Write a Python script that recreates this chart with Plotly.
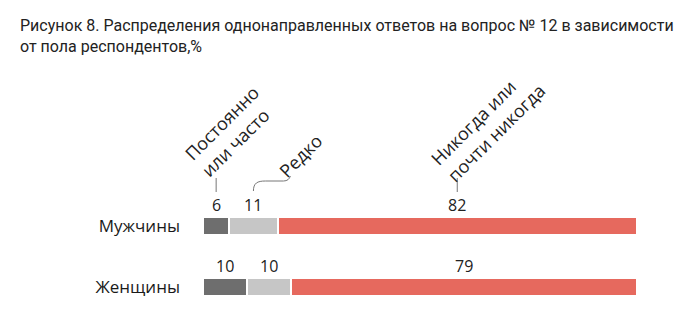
import plotly.graph_objects as go

# Survey data: answers to question No. 12 by respondent sex, %
groups = ["Мужчины", "Женщины"]
answers = ["Постоянно<br>или часто", "Редко", "Никогда или<br>почти никогда"]
often = [6, 10]
rarely = [11, 10]
never = [82, 79]
series = [often, rarely, never]
colors = ["#6e6e6e", "#c6c6c6", "#e6695e"]

W, H = 700, 326
L, R = 203, 63           # plot area margins (px)
PW = W - L - R
total = max(sum(v) for v in zip(*series))

fig = go.Figure()
for name, vals, col in zip(answers, series, colors):
    fig.add_trace(go.Bar(
        y=groups, x=vals, orientation="h", name=name,
        marker=dict(color=col, line=dict(color="white", width=2)),
        width=0.3, hoverinfo="skip", showlegend=False,
    ))

# value labels centred above each segment
for gi, g in enumerate(groups):
    start = 0
    for vals in series:
        v = vals[gi]
        fig.add_annotation(x=start + v / 2, y=g, text=str(v), showarrow=False,
                           yshift=21, font=dict(size=16, color="#222"),
                           xref="x", yref="y")
        start += v

def px2x(px):
    return (px - L) / PW

def py2y(py):
    return 1 - py / H

# midpoints of the first row's segments, in pixels
mids = []
start = 0
for vals in series:
    v = vals[0]
    mids.append(L + (start + v / 2) / total * PW)
    start += v

label_font = dict(size=18, color="#222", family="Open Sans, Roboto, sans-serif")

# rotated answer labels
for text, cx, cy in ((answers[0], mids[0] + 13, 131),
                     (answers[1], 300, 156),
                     (answers[2], mids[2] + 30, 124)):
    fig.add_annotation(x=px2x(cx), y=py2y(cy), xref="paper", yref="paper",
                       xanchor="center", yanchor="middle",
                       text=text, textangle=-45, showarrow=False,
                       font=label_font, align="left")

# leader lines
for m in (mids[0], mids[2]):
    fig.add_shape(type="line", xref="paper", yref="paper",
                  x0=px2x(m), x1=px2x(m), y0=py2y(192), y1=py2y(178),
                  line=dict(color="#777", width=1))
m = mids[1]
path = (f"M {px2x(m)},{py2y(191)} "
        f"C {px2x(m)},{py2y(183)} {px2x(m + 4)},{py2y(181)} {px2x(m + 12)},{py2y(181)} "
        f"L {px2x(m + 30)},{py2y(181)} "
        f"C {px2x(m + 34)},{py2y(181)} {px2x(m + 36)},{py2y(179)} {px2x(m + 37)},{py2y(176)}")
fig.add_shape(type="path", xref="paper", yref="paper", path=path,
              line=dict(color="#777", width=1))

# title
fig.add_annotation(x=px2x(18), y=py2y(36), xref="paper", yref="paper",
                   xanchor="left", yanchor="middle", align="left", showarrow=False,
                   text="Рисунок 8. Распределения однонаправленных ответов на вопрос № 12 в зависимости"
                        "<br>от пола респондентов,%",
                   font=dict(size=16, color="#222",
                             family="Liberation Sans Narrow, Roboto, sans-serif"))

# y-range chosen so rows sit at 226 px and 287 px from the top
row_gap = 61
top = -226 / row_gap
bottom = top + H / row_gap

fig.update_layout(
    width=W, height=H, barmode="stack", bargap=0,
    margin=dict(l=L, r=R, t=0, b=0),
    paper_bgcolor="white", plot_bgcolor="white",
    font=dict(family="Open Sans, Roboto, sans-serif", color="#222"),
    xaxis=dict(range=[0, total], visible=False, fixedrange=True),
    yaxis=dict(range=[bottom, top], showgrid=False, zeroline=False, showline=False,
               ticks="", ticklabelstandoff=22, tickfont=dict(size=17, color="#1a1a1a"),
               fixedrange=True),
)

fig.write_html("out.html", config={"displayModeBar": False})
